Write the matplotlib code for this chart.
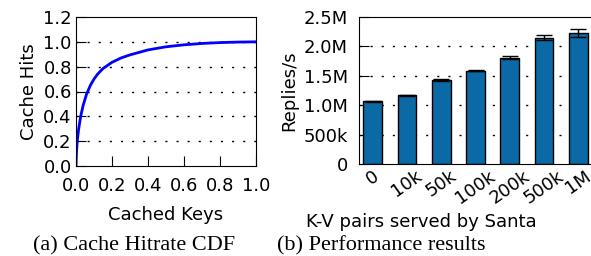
import matplotlib
matplotlib.use('Agg')
import matplotlib.pyplot as plt
import numpy as np

# (a) cache hitrate CDF
cached_keys = [0.0, 0.003, 0.007, 0.015, 0.026, 0.04, 0.059, 0.08, 0.1, 0.12, 0.15,
               0.2, 0.25, 0.3, 0.4, 0.5, 0.6, 0.7, 0.8, 0.9, 1.0]
cache_hits = [0.0, 0.12, 0.2, 0.3, 0.4, 0.49, 0.58, 0.65, 0.70, 0.74, 0.785,
              0.835, 0.87, 0.895, 0.935, 0.96, 0.976, 0.987, 0.994, 0.998, 1.0]

# (b) performance results
kv_pairs = ['0', '10k', '50k', '100k', '200k', '500k', '1M']
replies = [1.07e6, 1.17e6, 1.43e6, 1.59e6, 1.81e6, 2.15e6, 2.23e6]
replies_err = [0.008e6, 0.01e6, 0.012e6, 0.012e6, 0.025e6, 0.04e6, 0.065e6]
y_ticks = [0, 0.5e6, 1.0e6, 1.5e6, 2.0e6, 2.5e6]
y_ticklabels = ['0', '500k', '1.0M', '1.5M', '2.0M', '2.5M']

tick_fs = 13
label_fs = 13
dots = (0, (1.5, 6.5))

fig = plt.figure(figsize=(5.91, 2.56), dpi=100)

### left: CDF
ax1 = fig.add_axes([76/591, 90/256, 180/591, 149/256])
ax1.plot(cached_keys, cache_hits, color='#0000ff', lw=2)
ax1.set_xlim(0, 1.0)
ax1.set_ylim(0, 1.2)
ax1.set_xticks(np.arange(0, 1.01, 0.2))
ax1.set_yticks(np.arange(0, 1.21, 0.2))
ax1.set_xticklabels(['%.1f' % v for v in np.arange(0, 1.01, 0.2)])
ax1.set_yticklabels(['%.1f' % v for v in np.arange(0, 1.21, 0.2)])
for y in [0.2, 0.4, 0.6, 0.8, 1.0]:
    ax1.axhline(y, color='black', lw=1, ls=dots, zorder=0)
ax1.tick_params(direction='in', length=7, width=0.8, labelsize=tick_fs)
ax1.tick_params(axis='x', pad=8)
ax1.tick_params(axis='y', pad=3)
ax1.set_xlabel('Cached Keys', fontsize=label_fs, labelpad=8)
ax1.set_ylabel('Cache Hits', fontsize=label_fs, labelpad=4)

### right: bars
ax2 = fig.add_axes([359/591, 92/256, 233/591, 147/256])
x = np.arange(len(kv_pairs))
ax2.bar(x, replies, width=0.55, color='#0b6aa5', edgecolor='black', lw=1,
        yerr=replies_err, capsize=6, error_kw=dict(ecolor='black', elinewidth=1, capthick=1),
        zorder=2)
ax2.set_xlim(-0.4, 6.4)
ax2.set_ylim(0, 2.5e6)
ax2.set_xticks(x)
ax2.set_xticklabels(kv_pairs, rotation=35, ha='center', va='top')
ax2.set_yticks(y_ticks)
ax2.set_yticklabels(y_ticklabels)
for y in y_ticks[1:-1]:
    ax2.axhline(y, color='black', lw=1, ls=dots, zorder=0)
ax2.tick_params(direction='in', length=7, width=0.8, labelsize=tick_fs)
ax2.tick_params(axis='x', pad=2)
ax2.tick_params(axis='y', pad=8)
for t in ax2.get_xticklines():
    t.set_zorder(3)
ax2.set_ylabel('Replies/s', fontsize=label_fs, labelpad=4)
ax2.set_xlabel('K-V pairs served by Santa', fontsize=label_fs)
ax2.xaxis.set_label_coords((421 - 359) / 233, -0.33)

# captions
fig.text(134/591, 1 - 246/256, '(a) Cache Hitrate CDF', family='Liberation Serif',
         fontsize=16, ha='center', va='center')
fig.text(381/591, 1 - 246/256, '(b) Performance results', family='Liberation Serif',
         fontsize=16, ha='center', va='center')

fig.savefig('out.png', dpi=100)
